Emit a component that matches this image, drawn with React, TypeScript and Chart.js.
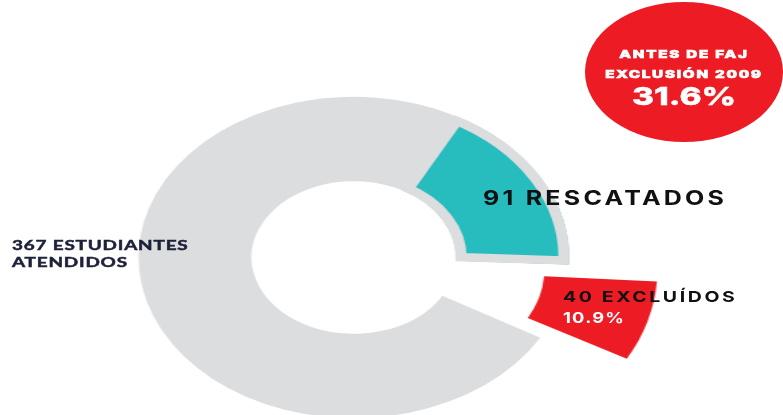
import React, { useEffect, useRef } from "react";
import { Chart, registerables } from "chart.js";

Chart.register(...registerables);

// Categories and counts shown in the infographic
const categories = ["Rescatados", "Excluidos", "Atendidos (resto)"];
const counts = [91, 40, 367];
// Arc sizes as drawn in the picture (degrees of the ring)
const arcDegrees = [64.5, 27.5, 268];
const colors = ["#27bcbd", "#ed1c24", "#dcdddf"];
const excludedPct = "10.9%";
const before2009Pct = "31.6%";

const STRETCH = 1.34;

export default function App() {
  const ref = useRef<HTMLCanvasElement | null>(null);

  useEffect(() => {
    const canvas = ref.current;
    if (!canvas) return;
    const chart = new Chart(canvas, {
      type: "doughnut",
      data: {
        labels: categories,
        datasets: [
          {
            data: arcDegrees,
            backgroundColor: colors,
            borderColor: ["#dcdddf", "#ed1c24", "#dcdddf"],
            borderWidth: [8, 0, 0],
            borderAlign: "inner",
            offset: [0, 176, 0],
            hoverOffset: 0,
          } as any,
        ],
      },
      options: {
        responsive: false,
        maintainAspectRatio: false,
        animation: false,
        rotation: 28,
        radius: 161,
        cutout: 80,
        events: [],
        layout: { padding: 0 },
        plugins: {
          legend: { display: false },
          tooltip: { enabled: false },
        },
      } as any,
    });
    return () => chart.destroy();
  }, []);

  const label = (extra: React.CSSProperties): React.CSSProperties => ({
    position: "absolute",
    whiteSpace: "nowrap",
    lineHeight: 1,
    ...extra,
  });

  const badgeLine = (top: number, size: number, scale: number, spacing: number, stroke: number): React.CSSProperties =>
    label({
      left: 585,
      width: 198,
      top,
      textAlign: "center",
      color: "#fff",
      fontWeight: 800,
      fontSize: size,
      letterSpacing: spacing,
      transform: `scaleX(${scale})`,
      transformOrigin: "50% 0",
      WebkitTextStroke: `${stroke}px #fff`,
    } as React.CSSProperties);

  return (
    <div
      style={{
        position: "relative",
        width: 783,
        height: 415,
        overflow: "hidden",
        background: "#ffffff",
        fontFamily: "Inter, 'Noto Sans', sans-serif",
      }}
    >
      <style>{`body{margin:0}`}</style>
      <div
        style={{
          position: "absolute",
          left: 0,
          top: 0,
          width: 528,
          height: 515,
          transform: `scaleX(${STRETCH})`,
          transformOrigin: "0 0",
        }}
      >
        <canvas ref={ref} width={528} height={515} />
      </div>

      {/* Red badge */}
      <div
        style={{
          position: "absolute",
          left: 585,
          top: 2,
          width: 198,
          height: 140,
          borderRadius: "50%",
          background: "#ed1c24",
        }}
      />
      <div style={badgeLine(48.5, 11, 1.38, 1.3, 0.7)}>ANTES DE FAJ</div>
      <div style={badgeLine(68.5, 11, 1.38, 1.3, 0.7)}>EXCLUSIÓN 2009</div>
      <div style={badgeLine(83.5, 25, 1.34, 0, 0.4)}>{before2009Pct}</div>

      {/* Segment labels */}
      <div
        style={label({
          left: 483,
          top: 188,
          color: "#111",
          fontWeight: 700,
          fontSize: 20,
          letterSpacing: 2.6,
          transform: "scaleX(1.25)",
          transformOrigin: "0 0",
        })}
      >
        {counts[0]} RESCATADOS
      </div>
      <div
        style={label({
          left: 563,
          top: 289,
          color: "#111",
          fontWeight: 700,
          fontSize: 15,
          letterSpacing: 2,
          transform: "scaleX(1.3)",
          transformOrigin: "0 0",
        })}
      >
        {counts[1]} EXCLUÍDOS
      </div>
      <div
        style={label({
          left: 563,
          top: 310,
          color: "#fff",
          fontWeight: 700,
          fontSize: 15,
          letterSpacing: 1,
          transform: "scaleX(1.22)",
          transformOrigin: "0 0",
        })}
      >
        {excludedPct}
      </div>
      <div
        style={label({
          left: 12,
          top: 236,
          color: "#1c2038",
          fontWeight: 700,
          fontSize: 14,
          fontFamily: "Lato, sans-serif",
          letterSpacing: 0.6,
          transform: "scaleX(1.35)",
          transformOrigin: "0 0",
          lineHeight: "17px",
          WebkitTextStroke: "0.5px #1c2038",
        } as React.CSSProperties)}
      >
        {counts[2]} ESTUDIANTES
        <br />
        ATENDIDOS
      </div>
    </div>
  );
}
